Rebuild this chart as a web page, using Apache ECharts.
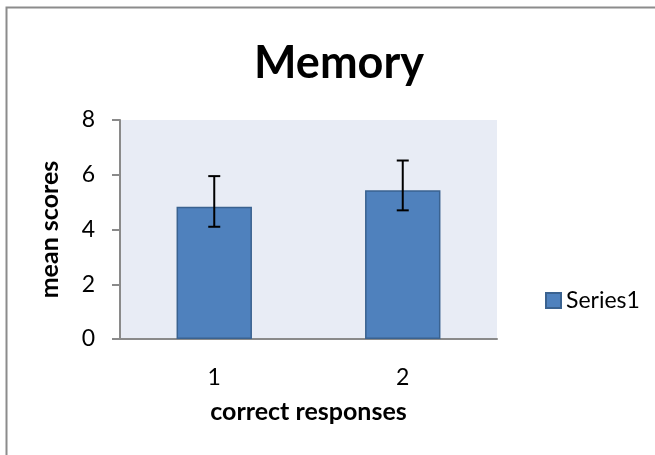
<!DOCTYPE html>
<html>
<head>
<meta charset="utf-8">
<script src="https://cdn.jsdelivr.net/npm/echarts@6/dist/echarts.min.js"></script>
<style>html,body{margin:0;padding:0;background:#fff;}#c{width:655px;height:455px;}</style>
</head>
<body>
<div id="c"></div>
<script>
var categories = ['1', '2'];
var means = [4.83, 5.43];
var errLow = [4.10, 4.70];
var errHigh = [5.95, 6.52];
var yTicks = [0, 2, 4, 6, 8];

var FONT = 'Lato, "Open Sans", sans-serif';
var chart = echarts.init(document.getElementById('c'), null, {renderer: 'canvas'});
chart.setOption({
  animation: false,
  backgroundColor: '#ffffff',
  textStyle: {fontFamily: FONT},
  title: {
    text: 'Memory', left: 334, textAlign: 'center', top: 36,
    textStyle: {fontSize: 45, fontWeight: 'bold', color: '#000', fontFamily: FONT}
  },
  graphic: [{
    type: 'rect', silent: true,
    shape: {x: 6.5, y: 7.5, width: 800, height: 600},
    style: {fill: 'none', stroke: '#8c8c8c', lineWidth: 2}
  }],
  legend: {
    data: ['Series1'], left: 540, top: 284, orient: 'vertical',
    icon: 'rect', itemWidth: 15, itemHeight: 15, itemGap: 5,
    textStyle: {fontSize: 23, color: '#000', fontFamily: FONT}
  },
  grid: {
    left: 120, right: 158, top: 120, bottom: 116,
    show: true, backgroundColor: '#E8ECF5', borderWidth: 0
  },
  xAxis: {
    type: 'category', data: categories,
    name: 'correct responses', nameLocation: 'middle', nameGap: 60,
    nameTextStyle: {fontSize: 25, fontWeight: 'bold', color: '#000', fontFamily: FONT},
    axisLine: {show: true, lineStyle: {color: '#8a8a8a', width: 2}},
    axisTick: {show: false},
    axisLabel: {fontSize: 23, color: '#000', margin: 27, fontFamily: FONT}
  },
  yAxis: {
    type: 'value', min: yTicks[0], max: yTicks[yTicks.length - 1], interval: 2,
    name: 'mean scores', nameLocation: 'middle', nameGap: 58, nameRotate: 90,
    nameTextStyle: {fontSize: 25, fontWeight: 'bold', color: '#000', fontFamily: FONT},
    axisLine: {show: true, lineStyle: {color: '#8a8a8a', width: 2}},
    axisTick: {show: true, length: 8, lineStyle: {color: '#8a8a8a', width: 2}},
    splitLine: {show: false},
    axisLabel: {fontSize: 23, color: '#000', margin: 25, fontFamily: FONT}
  },
  series: [{
    name: 'Series1', type: 'bar', data: means, barWidth: '40%',
    itemStyle: {color: '#4F81BD', borderColor: '#3A6290', borderWidth: 1.5}
  }, {
    type: 'custom', name: 'err',
    data: categories.map(function (c, i) { return [i, errLow[i], errHigh[i]]; }),
    renderItem: function (params, api) {
      var lo = api.coord([api.value(0), api.value(1)]);
      var hi = api.coord([api.value(0), api.value(2)]);
      var hw = 6;
      var st = {stroke: '#000', lineWidth: 2};
      return {type: 'group', children: [
        {type: 'line', shape: {x1: lo[0], y1: lo[1], x2: hi[0], y2: hi[1]}, style: st},
        {type: 'line', shape: {x1: lo[0] - hw, y1: lo[1], x2: lo[0] + hw, y2: lo[1]}, style: st},
        {type: 'line', shape: {x1: hi[0] - hw, y1: hi[1], x2: hi[0] + hw, y2: hi[1]}, style: st}
      ]};
    },
    encode: {x: 0, y: [1, 2]}, z: 10
  }]
});
</script>
</body>
</html>
